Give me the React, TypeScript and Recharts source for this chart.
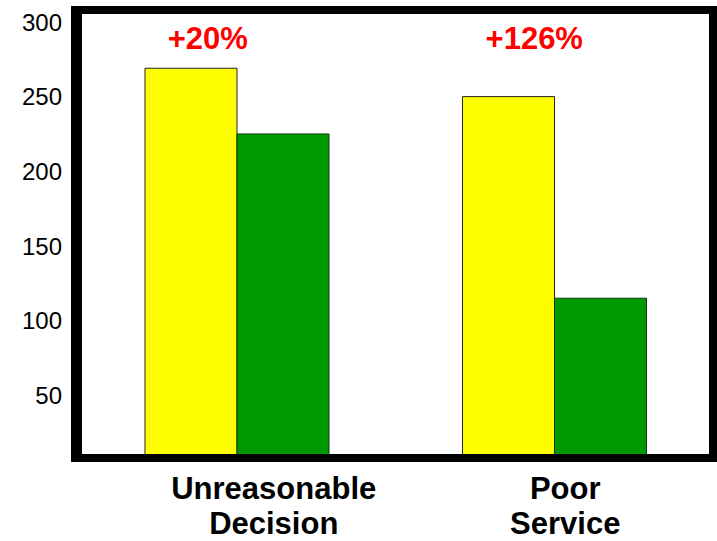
import { BarChart, Bar, XAxis, YAxis, ReferenceDot, ReferenceArea } from "recharts"

const categories = ["Unreasonable Decision", "Poor Service"]
const categoryLines = [
  ["Unreasonable", "Decision"],
  ["Poor", "Service"],
]
const yellowValues = [261, 242]
const greenValues = [217, 107]
const changeLabels = ["+20%", "+126%"]
const yTicks = [50, 100, 150, 200, 250, 300]

const data = categories.map((name, i) => ({
  name,
  yellow: yellowValues[i],
  green: greenValues[i],
}))

const FONT = "'Liberation Sans', Arial, Helvetica, sans-serif"
// label placement tweaks relative to category centre
const TICK_SHIFT = [37, 11]
const ANNOT_SHIFT = [-29, -20]
const frame = { stroke: "#000", strokeWidth: 8, strokeLinecap: "square" as const }

function YTick(props: any) {
  const { x, y, payload } = props
  return (
    <text x={x} y={y + 12} dy="0.36em" textAnchor="end" fontSize={24} fontFamily={FONT} fill="#000">
      {payload.value}
    </text>
  )
}

function XTick(props: any) {
  const { x, y, index } = props
  const lines = categoryLines[index] || []
  const cx = x + (TICK_SHIFT[index] || 0)
  return (
    <text textAnchor="middle" fontSize={31} fontWeight="bold" fontFamily={FONT} fill="#000">
      <tspan x={cx} y={y + 33}>{lines[0]}</tspan>
      <tspan x={cx} y={y + 68}>{lines[1]}</tspan>
    </text>
  )
}

export default function App() {
  return (
    <div style={{ position: "fixed", left: 0, top: 0, background: "#fff" }}>
      <BarChart
        width={717}
        height={541}
        data={data}
        margin={{ top: 10, right: 4, bottom: 0, left: 0 }}
        barGap={0}
        barSize={92}
      >
        <XAxis
          dataKey="name"
          height={83}
          padding={{ left: 3, right: 0 }}
          axisLine={frame}
          tickLine={false}
          tick={<XTick />}
          interval={0}
        />
        <YAxis
          domain={[0, 300]}
          ticks={yTicks}
          width={75}
          axisLine={frame}
          tickLine={false}
          tickMargin={7}
          tick={<YTick />}
        />
        <ReferenceArea y1={0} y2={300} fill="none" stroke="#000" strokeWidth={8} ifOverflow="visible" />
        <Bar dataKey="yellow" fill="#FFFF00" stroke="#222" strokeWidth={1} isAnimationActive={false} />
        <Bar dataKey="green" fill="#009900" stroke="#123812" strokeWidth={1} isAnimationActive={false} />
        {categories.map((c, i) => (
          <ReferenceDot
            key={c}
            x={c}
            y={281}
            r={0}
            fill="none"
            stroke="none"
            label={{
              value: changeLabels[i],
              position: "center",
              dx: ANNOT_SHIFT[i],
              fill: "#FF0000",
              fontSize: 31,
              fontWeight: "bold",
              fontFamily: FONT,
            }}
          />
        ))}
      </BarChart>
    </div>
  )
}
